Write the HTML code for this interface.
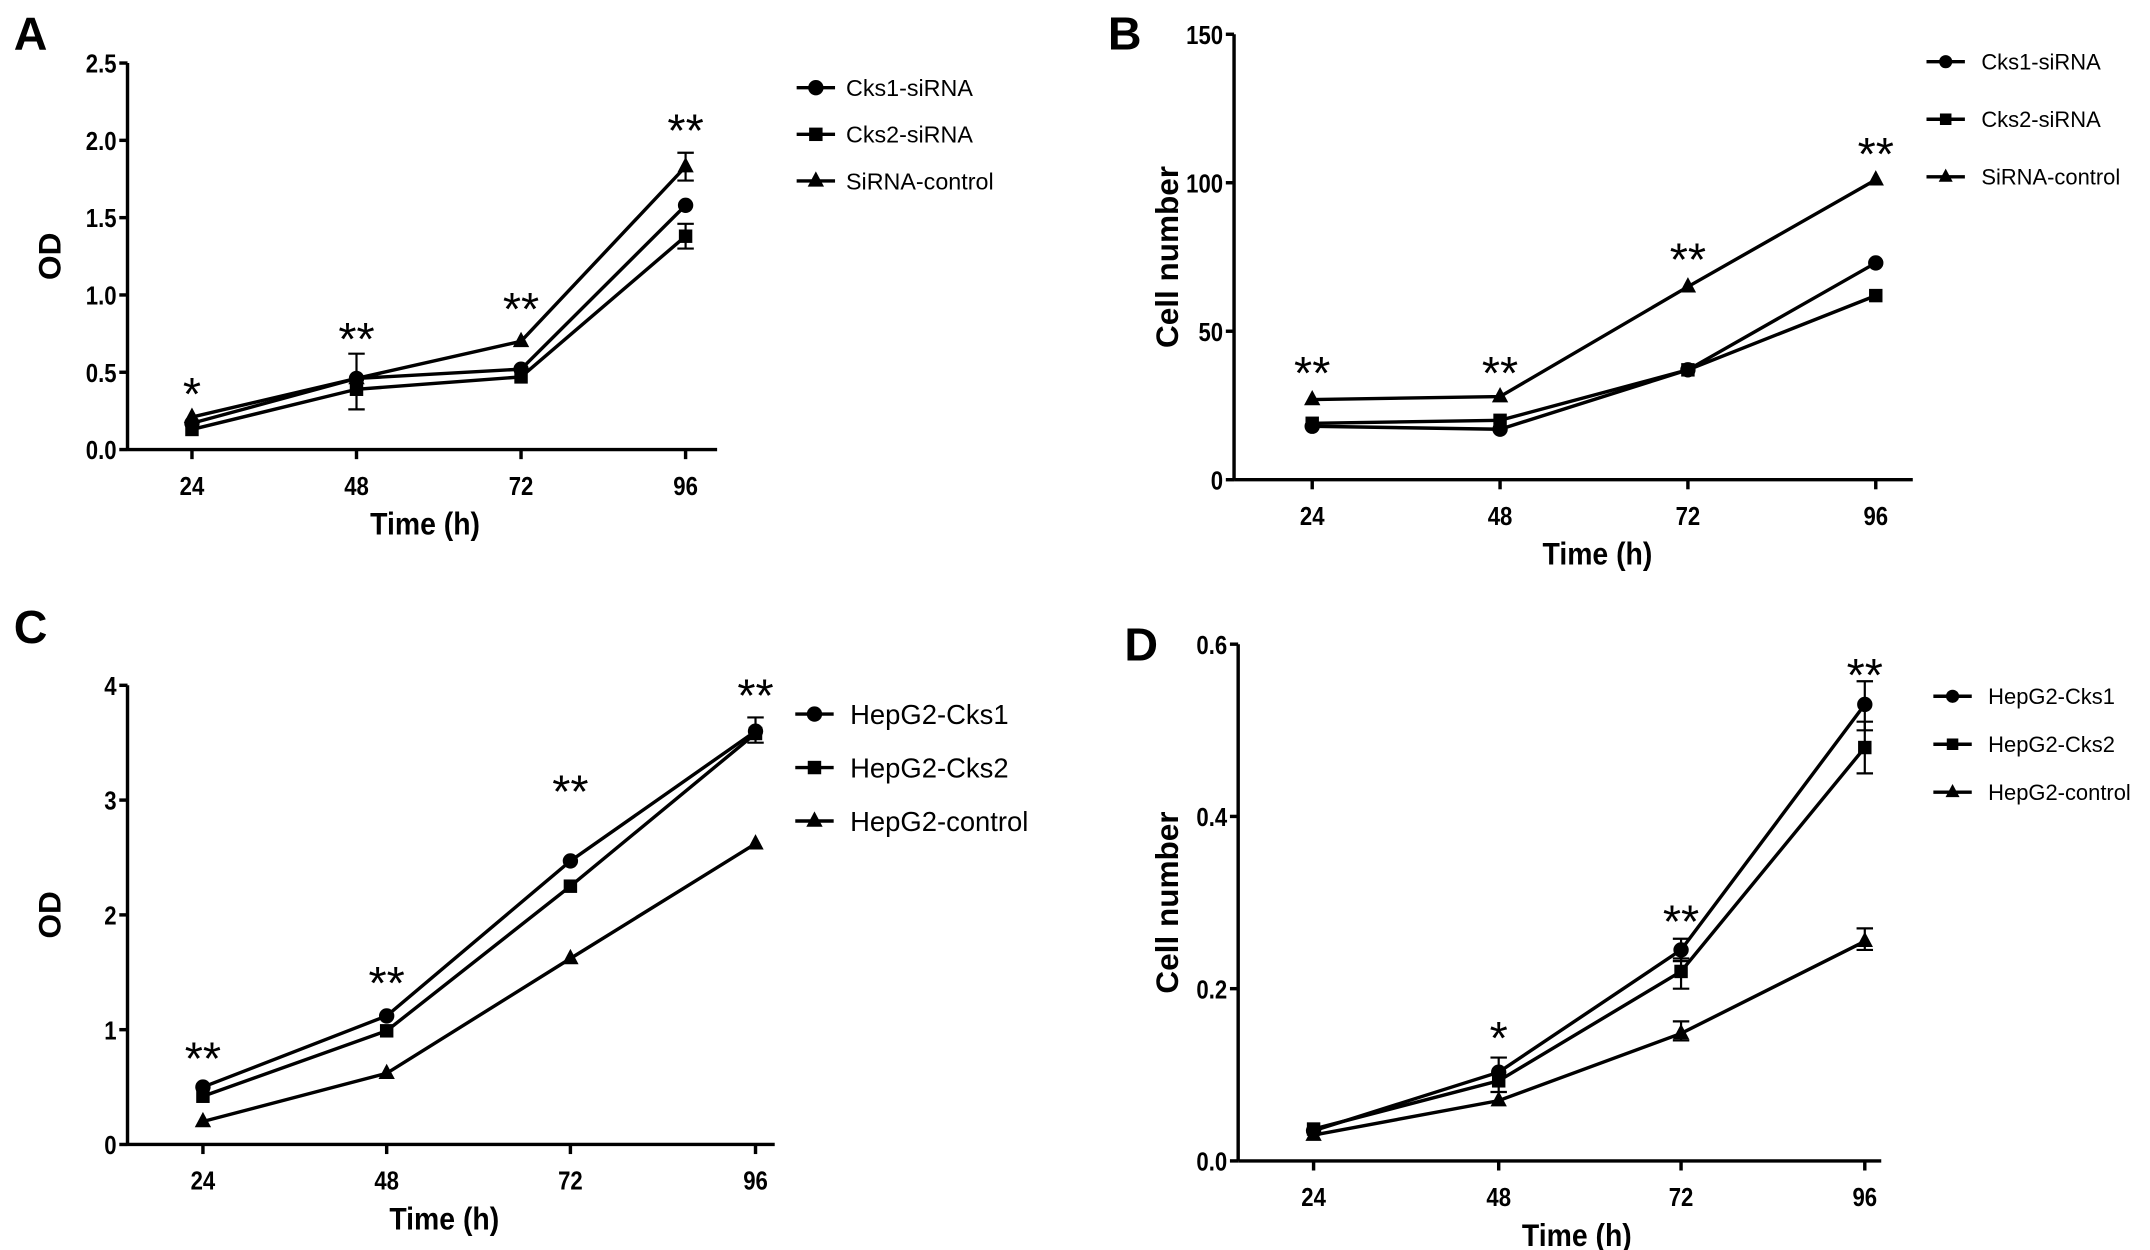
<!DOCTYPE html>
<html><head><meta charset="utf-8"><style>
html,body{margin:0;padding:0;background:#fff}
svg{display:block}
text{font-family:"Liberation Sans",sans-serif;fill:#000}
</style></head><body>
<svg id="s" width="2150" height="1250" viewBox="0 0 1568 912" preserveAspectRatio="none" xmlns="http://www.w3.org/2000/svg"></svg>
<script>
var s=document.getElementById('s'),h='';
function mk(m,x,y,r){r=r||7;
 if(m==0)return '<circle cx="'+x+'" cy="'+y+'" r="'+(r*0.8)+'"/>';
 if(m==1)return '<rect x="'+(x-r*0.7)+'" y="'+(y-r*0.7)+'" width="'+(r*1.4)+'" height="'+(r*1.4)+'"/>';
 return '<polygon points="'+x+','+(y-r)+' '+(x-r*0.85)+','+(y+r*0.6)+' '+(x+r*0.85)+','+(y+r*0.6)+'"/>';}
function cond(x,y,sx,inner){return '<g transform="translate('+x+','+y+') scale('+sx+',1)">'+inner+'</g>';}
function panel(p){
 var X0=p.ax,Y0=p.y0,Y1=p.y1,ym=p.ymax;
 function Y(v){return Y0-(v/ym)*(Y0-Y1);}
 h+='<text x="'+p.lx+'" y="'+p.ly+'" font-size="34" font-weight="bold">'+p.L+'</text>';
 h+='<g stroke="#000" stroke-width="2.5" fill="none"><line x1="'+X0+'" y1="'+Y1+'" x2="'+X0+'" y2="'+Y0+'"/><line x1="'+X0+'" y1="'+Y0+'" x2="'+p.xe+'" y2="'+Y0+'"/>';
 p.yt.forEach(function(t){h+='<line x1="'+(X0-6)+'" y1="'+Y(t)+'" x2="'+X0+'" y2="'+Y(t)+'"/>';});
 p.xt.forEach(function(x){h+='<line x1="'+x+'" y1="'+Y0+'" x2="'+x+'" y2="'+(Y0+7)+'"/>';});
 h+='</g>';
 p.yt.forEach(function(t,i){h+=cond(X0-8,Y(t)+7,0.85,'<text x="0" y="0" font-size="19" font-weight="bold" text-anchor="end">'+p.ytl[i]+'</text>');});
 var xl=['24','48','72','96'];
 p.xt.forEach(function(x,i){h+=cond(x,Y0+33,0.85,'<text x="0" y="0" font-size="19" font-weight="bold" text-anchor="middle">'+xl[i]+'</text>');});
 h+=cond(p.xlx,Y0+62,0.9,'<text x="0" y="0" font-size="23" font-weight="bold" text-anchor="middle">Time (h)</text>');
 var cy=(Y0+Y1)/2;
 h+='<text transform="translate('+(p.ylx+1)+','+cy+') rotate(-90)" font-size="23" font-weight="bold" text-anchor="middle">'+p.yl+'</text>';
 p.d.forEach(function(ser,k){
  var pts=ser.map(function(v,i){return p.xt[i]+','+Y(v);}).join(' ');
  h+='<polyline points="'+pts+'" fill="none" stroke="#000" stroke-width="2.5"/>';
  ser.forEach(function(v,i){h+=mk(k,p.xt[i],Y(v));});
 });
 (p.err||[]).forEach(function(e){var x=p.xt[e[0]];h+='<g stroke="#000" stroke-width="1.6"><line x1="'+x+'" y1="'+Y(e[1])+'" x2="'+x+'" y2="'+Y(e[2])+'"/><line x1="'+(x-6)+'" y1="'+Y(e[1])+'" x2="'+(x+6)+'" y2="'+Y(e[1])+'"/><line x1="'+(x-6)+'" y1="'+Y(e[2])+'" x2="'+(x+6)+'" y2="'+Y(e[2])+'"/></g>';});
 p.st.forEach(function(a){h+='<text x="'+p.xt[a[0]]+'" y="'+(a[1]+4)+'" font-size="34" font-family="DejaVu Sans" font-weight="200" text-anchor="middle">'+a[2]+'</text>';});
 p.leg.forEach(function(t,k){var y=p.lgy+k*p.lgd;
  h+='<line x1="'+p.lgx+'" y1="'+y+'" x2="'+(p.lgx+28)+'" y2="'+y+'" stroke="#000" stroke-width="2.5"/>'+mk(k,p.lgx+14,y,p.lgf>16?7:6);
  h+='<text x="'+(p.lgx+p.lgo)+'" y="'+(y+p.lgf*0.36)+'" font-size="'+p.lgf+'">'+t+'</text>';});
}
panel({L:'A',lx:10,ly:36,ax:93,y0:328,y1:46,ymax:2.5,xe:523,yt:[0,.5,1,1.5,2,2.5],ytl:['0.0','0.5','1.0','1.5','2.0','2.5'],
 xt:[140,260,380,500],xlx:310,ylx:43,yl:'OD',
 d:[[.17,.46,.52,1.58],[.13,.39,.47,1.38],[.21,.46,.70,1.83]],
 err:[[1,.26,.62],[3,1.30,1.46],[3,1.74,1.92]],
 st:[[0,295,'*'],[1,255,'**'],[2,233,'**'],[3,103,'**']],
 leg:['Cks1-siRNA','Cks2-siRNA','SiRNA-control'],lgx:581,lgy:64,lgd:34,lgf:17,lgo:36});
panel({L:'B',lx:808,ly:36,ax:900,y0:350,y1:25,ymax:150,xe:1395,yt:[0,50,100,150],ytl:['0','50','100','150'],
 xt:[957,1094,1231,1368],xlx:1165,ylx:858,yl:'Cell number',
 d:[[18,17,37,73],[19,20,37,62],[27,28,65,101]],
 st:[[0,280,'**'],[1,280,'**'],[2,197,'**'],[3,120,'**']],
 leg:['Cks1-siRNA','Cks2-siRNA','SiRNA-control'],lgx:1405,lgy:45,lgd:42,lgf:16,lgo:40});
panel({L:'C',lx:10,ly:469,ax:93,y0:835,y1:500,ymax:4,xe:565,yt:[0,1,2,3,4],ytl:['0','1','2','3','4'],
 xt:[148,282,416,551],xlx:324,ylx:43,yl:'OD',
 d:[[.5,1.12,2.47,3.6],[.42,.99,2.25,3.58],[.2,.62,1.62,2.62]],
 err:[[3,3.5,3.72]],
 st:[[0,780,'**'],[1,725,'**'],[2,585,'**'],[3,515,'**']],
 leg:['HepG2-Cks1','HepG2-Cks2','HepG2-control'],lgx:580,lgy:521,lgd:39,lgf:20,lgo:40});
panel({L:'D',lx:820,ly:482,ax:903,y0:847,y1:470,ymax:.6,xe:1372,yt:[0,.2,.4,.6],ytl:['0.0','0.2','0.4','0.6'],
 xt:[958,1093,1226,1360],xlx:1150,ylx:858,yl:'Cell number',
 d:[[.035,.103,.245,.53],[.037,.093,.22,.48],[.03,.07,.148,.255]],
 err:[[1,.08,.12],[2,.232,.258],[2,.2,.235],[2,.14,.162],[3,.5,.557],[3,.45,.51],[3,.245,.27]],
 st:[[1,765,'*'],[2,680,'**'],[3,500,'**']],
 leg:['HepG2-Cks1','HepG2-Cks2','HepG2-control'],lgx:1410,lgy:508,lgd:35,lgf:16,lgo:40});
s.innerHTML=h;
</script>
</body></html>
